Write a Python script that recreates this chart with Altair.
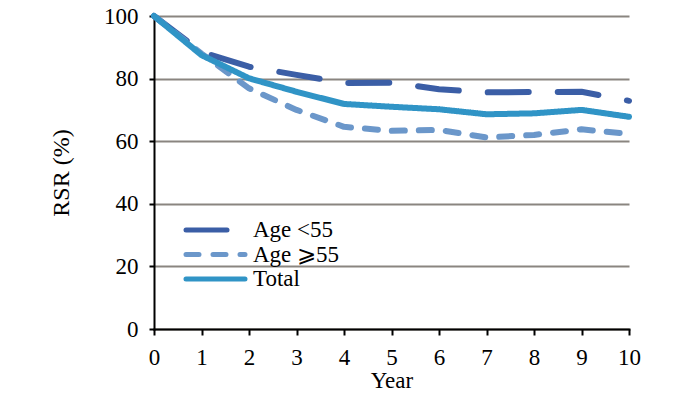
import altair as alt
import pandas as pd

years = list(range(11))
age_lt55 = [100, 88.5, 83.8, 81.2, 78.6, 78.7, 76.6, 75.6, 75.7, 75.8, 72.9]
age_ge55 = [100, 88.0, 76.9, 70.0, 64.6, 63.3, 63.6, 61.2, 62.0, 63.8, 62.3]
total = [100, 87.5, 80.1, 75.8, 71.9, 71.0, 70.2, 68.6, 68.9, 70.0, 67.8]
series_names = ["Age <55", "Age \u2a7e55", "Total"]
series_colors = ["#3b5ea6", "#6b97ca", "#3094c6"]
series_dash = [[41, 29], [13, 14], [1, 0]]

rows = []
for name, vals in zip(series_names, [age_lt55, age_ge55, total]):
    for yr, v in zip(years, vals):
        rows.append({"Year": yr, "RSR": v, "Series": name})
df = pd.DataFrame(rows)
legend_df = pd.DataFrame({"Series": series_names})

FONT = "Liberation Serif"

color_enc = alt.Color("Series:N", scale=alt.Scale(domain=series_names, range=series_colors), legend=None)
dash_enc = alt.StrokeDash("Series:N", scale=alt.Scale(domain=series_names, range=series_dash), legend=None)

lines = alt.Chart(df).mark_line(strokeWidth=6, strokeCap="round", strokeJoin="round").encode(
    x=alt.X("Year:Q", scale=alt.Scale(domain=[0, 10], nice=False),
            axis=alt.Axis(title="Year", values=years, grid=False, format="d", labelFlush=False,
                          labelFontSize=23, titleFontSize=23, labelFont=FONT, titleFont=FONT,
                          labelColor="#000", titleColor="#000", titleFontWeight="normal",
                          domainColor="#000", domainWidth=2, tickColor="#000", tickWidth=2,
                          tickSize=6, labelPadding=11, titlePadding=0)),
    y=alt.Y("RSR:Q", scale=alt.Scale(domain=[0, 100], nice=False),
            axis=alt.Axis(title="RSR (%)", values=[0, 20, 40, 60, 80, 100], grid=True,
                          gridColor="#8a8580", gridWidth=2, labelFlush=False,
                          labelFontSize=23, titleFontSize=24, labelFont=FONT, titleFont=FONT,
                          labelColor="#000", titleColor="#000", titleFontWeight="normal",
                          domainColor="#000", domainWidth=2, tickColor="#000", tickWidth=2,
                          tickSize=5, labelPadding=11, titlePadding=30)),
    color=color_enc,
    strokeDash=dash_enc,
)

leg_y = alt.Y("Series:N", scale=alt.Scale(type="point", domain=series_names, range=[214, 263], padding=0), axis=None)

leg_rules = alt.Chart(legend_df).mark_rule(strokeWidth=5, strokeCap="round").encode(
    x=alt.value(32), x2=alt.value(91), y=leg_y, color=color_enc, strokeDash=dash_enc,
)
leg_text = alt.Chart(legend_df).mark_text(align="left", baseline="middle", font=FONT, fontSize=23,
                                          color="#000", dx=0).encode(
    x=alt.value(99), y=leg_y, text="Series:N",
)

chart = alt.layer(lines, leg_rules, leg_text).resolve_scale(y="independent").properties(
    width=475, height=313,
    autosize=alt.AutoSizeParams(type="none"),
    padding={"left": 146, "top": 8, "right": 55, "bottom": 64},
).configure_view(stroke=None).configure_axis(gridDash=[], domainCap="square")

chart.save("out.html", embed_options={"renderer": "svg", "actions": False})
